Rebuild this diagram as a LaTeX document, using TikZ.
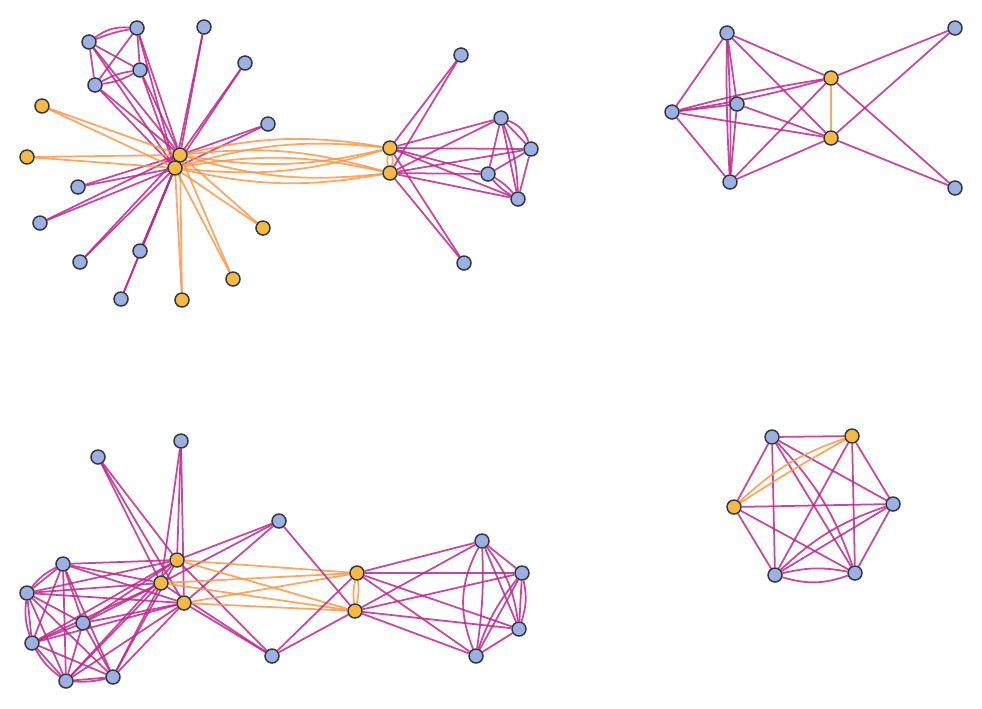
\documentclass[tikz,border=0pt]{standalone}
\usepackage{xcolor}
\usepackage{tikz}
\usetikzlibrary{backgrounds}
\definecolor{pinkedge}{RGB}{192,38,140}
\definecolor{orangeedge}{RGB}{255,150,70}
\definecolor{bluevert}{RGB}{157,176,226}
\definecolor{orangevert}{RGB}{246,185,66}
\definecolor{vertline}{RGB}{50,55,65}

\begin{document}
\begin{tikzpicture}[x=0.02cm,y=-0.02cm,
  vb/.style={circle,draw=vertline,line width=0.85pt,fill=bluevert,minimum size=0.28cm,inner sep=0pt},
  vo/.style={vb,fill=orangevert},
  pe/.style={draw=pinkedge,line width=1pt,opacity=0.85},
  oe/.style={draw=orangeedge,line width=1pt,opacity=0.85}]
\useasboundingbox (0,0) rectangle (982,708);

% top left
\node[vo] (a1) at (180,155) {};
\node[vo] (a2) at (175,168) {};
\node[vb] (c1) at (89,42) {};
\node[vb] (c2) at (137,28) {};
\node[vb] (c3) at (140,70) {};
\node[vb] (c4) at (95,85) {};
\node[vb] (b1) at (204,27) {};
\node[vb] (b2) at (245,63) {};
\node[vb] (b3) at (268,124) {};
\node[vb] (b4) at (78,187) {};
\node[vb] (b5) at (40,223) {};
\node[vb] (b6) at (80,262) {};
\node[vb] (b7) at (140,251) {};
\node[vb] (b8) at (121,299) {};
\node[vo] (o1) at (42,106) {};
\node[vo] (o2) at (27,157) {};
\node[vo] (o3) at (263,228) {};
\node[vo] (o4) at (233,279) {};
\node[vo] (o5) at (182,300) {};
\node[vo] (r1) at (390,148) {};
\node[vo] (r2) at (390,173) {};
\node[vb] (d1) at (501,118) {};
\node[vb] (d2) at (531,149) {};
\node[vb] (d3) at (488,174) {};
\node[vb] (d4) at (518,199) {};
\node[vb] (e1) at (461,55) {};
\node[vb] (e2) at (464,263) {};

% top right
\node[vb] (f1) at (727,33) {};
\node[vb] (f2) at (672,112) {};
\node[vb] (f3) at (737,104) {};
\node[vb] (f4) at (730,182) {};
\node[vo] (h1) at (831,78) {};
\node[vo] (h2) at (831,138) {};
\node[vb] (g1) at (955,28) {};
\node[vb] (g2) at (955,188) {};

% bottom left
\node[vb] (k1) at (98,457) {};
\node[vb] (k2) at (181,441) {};
\node[vo] (m1) at (177,560) {};
\node[vo] (m2) at (161,583) {};
\node[vo] (m3) at (184,603) {};
\node[vb] (p1) at (63,564) {};
\node[vb] (p2) at (27,593) {};
\node[vb] (p3) at (83,623) {};
\node[vb] (p4) at (32,643) {};
\node[vb] (p5) at (66,681) {};
\node[vb] (p6) at (113,677) {};
\node[vb] (q1) at (279,521) {};
\node[vb] (q2) at (272,656) {};
\node[vo] (n1) at (357,573) {};
\node[vo] (n2) at (355,611) {};
\node[vb] (s1) at (482,541) {};
\node[vb] (s2) at (522,573) {};
\node[vb] (s3) at (519,629) {};
\node[vb] (s4) at (476,656) {};

% bottom right
\node[vb] (u1) at (772,437) {};
\node[vo] (u2) at (852,436) {};
\node[vb] (u3) at (893,504) {};
\node[vb] (u4) at (855,573) {};
\node[vb] (u5) at (775,575) {};
\node[vo] (u6) at (734,507) {};

\begin{scope}[on background layer]
% top left
\foreach \v in {c1,c2,c3,c4,b1,b2,b3,b4,b5,b6,b7,b8}{
  \draw[pe] (\v) -- (a1);
  \draw[pe] (\v) -- (a2);
}
\foreach \v in {o1,o2,o3,o4,o5}{
  \draw[oe] (\v) -- (a1);
  \draw[oe] (\v) -- (a2);
}
\draw[pe] (c1) to[bend left=20] (c2);
\draw[pe] (c1) to[bend left=6] (c2);
\draw[pe] (c1) -- (c3);
\draw[pe] (c1) -- (c4);
\draw[pe] (c2) -- (c3);
\draw[pe] (c2) -- (c4);
\draw[pe] (c3) to[bend left=10] (c4);
\draw[pe] (c3) to[bend right=10] (c4);
\foreach \s in {a1,a2}{
  \foreach \t in {r1,r2}{
    \draw[oe] (\s) to[bend left=11] (\t);
    \draw[oe] (\s) to[bend right=11] (\t);
  }
}
\draw[oe] (r1) to[bend left=15] (r2);
\draw[oe] (r1) to[bend right=15] (r2);
\foreach \v in {d1,d2,d3,d4,e1,e2}{
  \draw[pe] (r1) -- (\v);
  \draw[pe] (r2) -- (\v);
}
\draw[pe] (d1) to[bend left=25] (d2);
\draw[pe] (d1) -- (d2);
\draw[pe] (d1) -- (d3);
\draw[pe] (d1) -- (d4);
\draw[pe] (d1) to[bend left=10] (d4);
\draw[pe] (d2) -- (d3);
\draw[pe] (d2) -- (d4);
\draw[pe] (d3) to[bend left=10] (d4);
\draw[pe] (d3) to[bend right=10] (d4);

% top right
\draw[pe] (f1) -- (f2);
\draw[pe] (f1) -- (f3);
\draw[pe] (f1) to[bend left=2] (f4);
\draw[pe] (f1) to[bend right=2] (f4);
\draw[pe] (f1) -- (h1);
\draw[pe] (f1) -- (h2);
\draw[pe] (f2) -- (f3);
\draw[pe] (f2) -- (f4);
\draw[pe] (f2) to[bend left=3] (h1);
\draw[pe] (f2) to[bend right=3] (h1);
\draw[pe] (f2) -- (h2);
\draw[pe] (f3) -- (h2);
\draw[pe] (f3) -- (f4);
\draw[pe] (f4) -- (h1);
\draw[pe] (f4) -- (h2);
\draw[oe] (h1) -- (h2);
\foreach \v in {g1,g2}{
  \draw[pe] (h1) -- (\v);
  \draw[pe] (h2) -- (\v);
}

% bottom left
\foreach \v in {k1,k2,p1,p2,p3,p4,p5,p6,q1,q2}{
  \draw[pe] (\v) -- (m1);
  \draw[pe] (\v) -- (m2);
  \draw[pe] (\v) -- (m3);
}
\foreach \s/\t in {p1/p2,p1/p3,p1/p4,p1/p5,p1/p6,p2/p3,p2/p4,p2/p5,p2/p6,
                   p3/p4,p3/p5,p3/p6,p4/p5,p4/p6,p5/p6}{
  \draw[pe] (\s) -- (\t);
}
\draw[pe] (p1) to[bend right=12] (p2);
\draw[pe] (p2) to[bend right=12] (p4);
\draw[pe] (p4) to[bend right=12] (p5);
\draw[pe] (p5) to[bend right=8] (p6);
\foreach \s in {m1,m2,m3}{
  \draw[oe] (\s) -- (n1);
  \draw[oe] (\s) -- (n2);
}
\draw[oe] (n1) to[bend left=10] (n2);
\draw[oe] (n1) to[bend right=10] (n2);
\draw[pe] (q1) -- (n2);
\draw[pe] (q2) -- (n1);
\draw[pe] (q2) -- (n2);
\foreach \v in {s1,s2,s3,s4}{
  \draw[pe] (n1) -- (\v);
  \draw[pe] (n2) -- (\v);
}
\draw[pe] (s1) -- (s2);
\draw[pe] (s1) -- (s3);
\draw[pe] (s1) to[bend right=25] (s4);
\draw[pe] (s1) to[bend left=5] (s4);
\draw[pe] (s1) to[bend left=15] (s3);
\draw[pe] (s2) to[bend left=15] (s3);
\draw[pe] (s2) -- (s3);
\draw[pe] (s2) -- (s4);
\draw[pe] (s2) to[bend right=10] (s4);
\draw[pe] (s3) -- (s4);

% bottom right
\foreach \s/\t in {u1/u2,u1/u3,u1/u4,u1/u5,u1/u6,u2/u3,u2/u4,u2/u5,
                   u3/u4,u3/u5,u3/u6,u4/u6,u5/u6}{
  \draw[pe] (\s) -- (\t);
}
\draw[pe] (u1) to[bend left=12] (u4);
\draw[pe] (u3) to[bend right=12] (u5);
\draw[pe] (u4) to[bend left=18] (u5);
\draw[pe] (u4) to[bend right=12] (u5);
\draw[oe] (u6) to[bend left=12] (u2);
\draw[oe] (u6) to[bend left=2] (u2);
\end{scope}
\end{tikzpicture}
\end{document}
